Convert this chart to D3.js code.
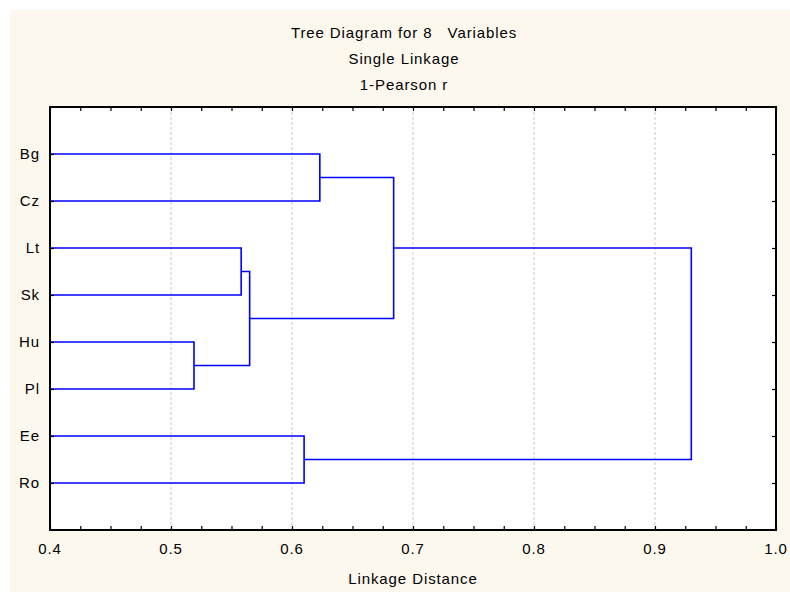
<!DOCTYPE html>
<html><head><meta charset="utf-8">
<script src="https://cdn.jsdelivr.net/npm/d3@7"></script>
<style>body{margin:0;background:#fff}text{font-family:"Liberation Sans",Arial,sans-serif;fill:#000;letter-spacing:0.9px}</style>
</head><body><svg id="c" width="790" height="592"></svg>
<script>
const titles = ["Tree Diagram for 8   Variables", "Single Linkage", "1-Pearson r"];
const leafLabels = ["Bg", "Cz", "Lt", "Sk", "Hu", "Pl", "Ee", "Ro"];
// merges: nodes 0..7 are leaves, merged clusters are numbered 8.. in order
const mergeLeft   = [4, 2, 8, 0, 6, 11, 12];
const mergeRight  = [5, 3, 9, 1, 7, 10, 13];
const mergeHeight = [0.519, 0.558, 0.565, 0.623, 0.610, 0.684, 0.930];
const xTicks = [0.4, 0.5, 0.6, 0.7, 0.8, 0.9, 1.0];
const xTitle = "Linkage Distance";

const svg = d3.select("#c");
svg.append("rect").attr("x",10).attr("y",10).attr("width",780).attr("height",582).attr("fill","#FDF8EE");
const L=50,R=776,T=107,B=530;
svg.append("rect").attr("x",L).attr("y",T).attr("width",R-L).attr("height",B-T).attr("fill","#fff");

const x = d3.scaleLinear().domain([0.4,1.0]).range([L,R]);
const y = d3.scaleLinear().domain([0,leafLabels.length+1]).range([T,B]);

// grid
svg.append("g").selectAll("line").data(xTicks.slice(1,-1)).join("line")
  .attr("x1",d=>x(d)).attr("x2",d=>x(d)).attr("y1",T).attr("y2",B)
  .attr("stroke","#c8c8c8").attr("stroke-dasharray","3,2").attr("stroke-width",1);

// titles
titles.forEach((t,i)=>svg.append("text").attr("x",404).attr("y",38+i*26).attr("text-anchor","middle")
  .attr("font-size",15).style("white-space","pre").attr("xml:space","preserve").text(t));

// dendrogram
const nodes = leafLabels.map((l,i)=>({x:x(0.4),y:y(i+1)}));
const g = svg.append("g").attr("fill","none").attr("stroke","#0000ff").attr("stroke-width",1.6);
mergeLeft.forEach((a,i)=>{
  const b = mergeRight[i], h = x(mergeHeight[i]);
  const na = nodes[a], nb = nodes[b];
  g.append("path").attr("d",`M${na.x},${na.y}H${h}V${nb.y}H${nb.x}`);
  nodes.push({x:h,y:(na.y+nb.y)/2});
});

// axes
const xb = svg.append("g").attr("transform",`translate(0,${B})`)
  .call(d3.axisBottom(x).tickValues(d3.range(0.4,1.0001,0.025)).tickSize(-4).tickFormat(""));
const xt = svg.append("g").attr("transform",`translate(0,${T})`)
  .call(d3.axisTop(x).tickValues(d3.range(0.4,1.0001,0.025)).tickSize(-4).tickFormat(""));
const yl = svg.append("g").attr("transform",`translate(${L},0)`)
  .call(d3.axisLeft(y).tickValues(d3.range(1,leafLabels.length+1)).tickSize(-4).tickFormat(""));
const yr = svg.append("g").attr("transform",`translate(${R},0)`)
  .call(d3.axisRight(y).tickValues(d3.range(1,leafLabels.length+1)).tickSize(-4).tickFormat(""));
[xb,xt,yl,yr].forEach(a=>{a.selectAll(".domain").remove();a.selectAll("line").attr("stroke","#000").attr("stroke-width",1.2);});
svg.append("rect").attr("x",L).attr("y",T).attr("width",R-L).attr("height",B-T)
  .attr("fill","none").attr("stroke","#000").attr("stroke-width",2);

// tick labels
svg.append("g").selectAll("text").data(xTicks).join("text")
  .attr("x",d=>x(d)).attr("y",554).attr("text-anchor","middle").attr("font-size",15)
  .text(d=>d3.format(".1f")(d));
svg.append("g").selectAll("text").data(leafLabels).join("text")
  .attr("x",40).attr("y",(d,i)=>y(i+1)+5).attr("text-anchor","end").attr("font-size",15).text(d=>d);
svg.append("text").attr("x",413).attr("y",584).attr("text-anchor","middle").attr("font-size",15).text(xTitle);
</script></body></html>
